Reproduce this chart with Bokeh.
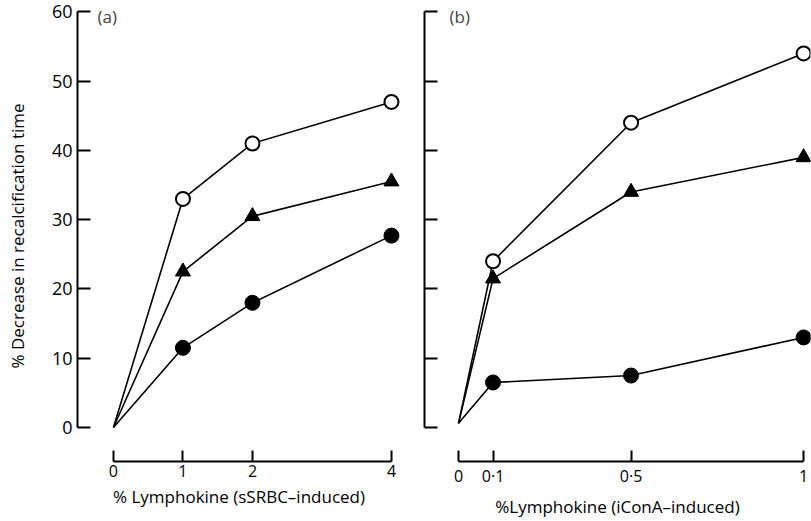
from bokeh.plotting import figure
from bokeh.layouts import row
from bokeh.models import FixedTicker, Label, Range1d
from bokeh.embed import file_html
from bokeh.resources import INLINE

# ---- data ----
x_a = [0, 1, 2, 4]
open_a = [0, 33, 41, 47]
tri_a = [0, 22.5, 30.5, 35.5]
fill_a = [0, 11.5, 18, 27.7]

x_b = [0, 0.1, 0.5, 1]
open_b = [0.6, 24, 44, 54]
tri_b = [0.6, 21.5, 34, 39]
fill_b = [0.6, 6.5, 7.5, 13]

y_ticks = [0, 10, 20, 30, 40, 50, 60]
x_ticks_a = [0, 1, 2, 4]
x_ticks_b = [0, 0.1, 0.5, 1]
x_labels_b = ["0", "0·1", "0·5", "1"]

FONT = "Open Sans"


def style(p, xticks, xbounds, show_ylabels):
    p.outline_line_color = None
    p.grid.visible = False
    p.background_fill_color = "white"
    p.border_fill_color = "white"
    for ax in p.axis:
        ax.axis_line_width = 2
        ax.axis_line_color = "black"
        ax.major_tick_line_width = 2
        ax.major_tick_line_color = "black"
        ax.minor_tick_line_color = None
        ax.major_tick_out = 0
        ax.major_label_text_font = FONT
        ax.major_label_text_color = "black"
        ax.axis_label_text_font = FONT
        ax.axis_label_text_font_style = "normal"
        ax.axis_label_text_color = "black"
    xa = p.xaxis[0]
    xa.ticker = FixedTicker(ticks=xticks)
    xa.bounds = xbounds
    xa.major_tick_in = 11
    xa.major_label_standoff = 3
    xa.major_label_text_font_size = "16px"
    xa.axis_label_text_font_size = "17px"
    xa.axis_label_standoff = 5
    ya = p.yaxis[0]
    ya.ticker = FixedTicker(ticks=y_ticks)
    ya.bounds = (0, 60)
    ya.major_tick_in = 13
    if show_ylabels:
        ya.major_label_standoff = 5
        ya.major_label_text_font_size = "18px"
        ya.axis_label_text_font_size = "17px"
        ya.axis_label_standoff = 20
    else:
        ya.major_label_overrides = {t: "" for t in y_ticks}
        ya.major_label_standoff = 0


def draw(p, xs, o, t, f):
    for ys in (o, t, f):
        p.line(xs, ys, line_color="black", line_width=1.6)
    p.scatter(xs[1:], f[1:], marker="circle", size=15, fill_color="black", line_color="black")
    p.scatter(xs[1:], t[1:], marker="triangle", size=15, fill_color="black", line_color="black")
    p.scatter(xs[1:], o[1:], marker="circle", size=14, fill_color="white", line_color="black", line_width=2)


p_a = figure(width=405, height=521, x_range=Range1d(-0.517, 4.13), y_range=Range1d(-4.91, 60.2),
             output_backend="svg", toolbar_location=None,
             min_border_left=77, min_border_right=5, min_border_top=10, min_border_bottom=60)
p_a.xaxis.axis_label = "% Lymphokine (sSRBC–induced)"
p_a.yaxis.axis_label = "% Decrease in recalcification time"
style(p_a, x_ticks_a, (0, 4), True)
draw(p_a, x_a, open_a, tri_a, fill_a)
p_a.add_layout(Label(x=-0.23, y=60, text="(a)", text_font=FONT, text_font_size="17px",
                     text_baseline="middle", y_offset=-5))

p_b = figure(width=406, height=521, x_range=Range1d(-0.0986, 1.02), y_range=Range1d(-4.91, 60.2),
             output_backend="svg", toolbar_location=None,
             min_border_left=19, min_border_right=1, min_border_top=10, min_border_bottom=60)
p_b.xaxis.axis_label = "%Lymphokine (iConA–induced)"
style(p_b, x_ticks_b, (0, 1), False)
p_b.xaxis.major_label_overrides = dict(zip(x_ticks_b, x_labels_b))
draw(p_b, x_b, open_b, tri_b, fill_b)
p_b.add_layout(Label(x=-0.026, y=60, text="(b)", text_font=FONT, text_font_size="17px",
                     text_baseline="middle", y_offset=-5))

layout = row(p_a, p_b, spacing=0)
open("out.html", "w").write(file_html(layout, INLINE))
